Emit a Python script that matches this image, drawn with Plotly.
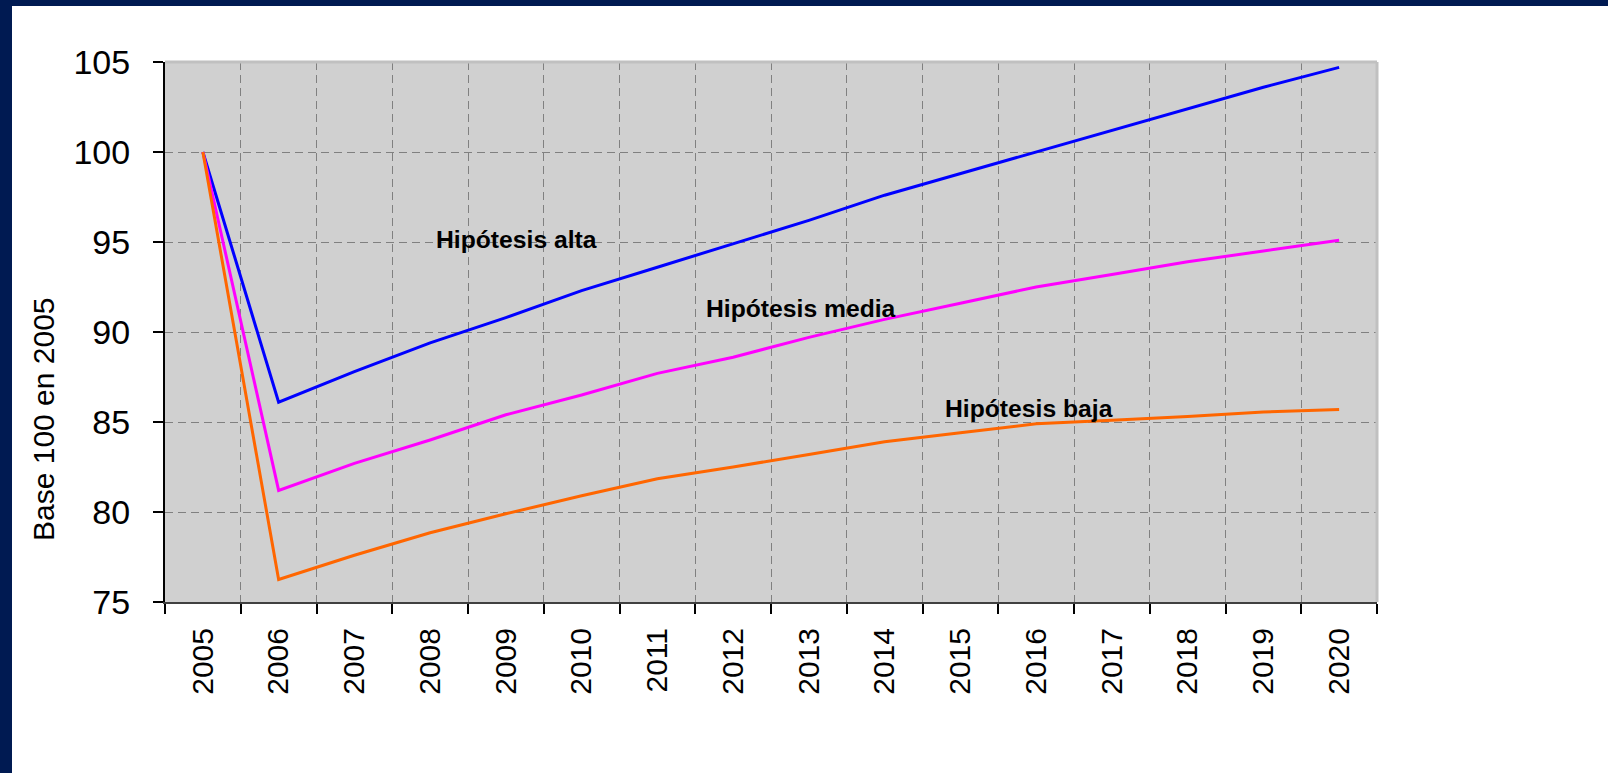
import plotly.graph_objects as go

# Projected index (base 2005 = 100) under three hypotheses
years = [str(y) for y in range(2005, 2021)]
alta = [100, 86.1, 87.8, 89.4, 90.8, 92.3, 93.6, 94.9, 96.2, 97.6, 98.8, 100.0, 101.2, 102.4, 103.6, 104.7]
media = [100, 81.2, 82.7, 84.0, 85.4, 86.5, 87.7, 88.6, 89.7, 90.7, 91.6, 92.5, 93.2, 93.9, 94.5, 95.1]
baja = [100, 76.25, 77.6, 78.85, 79.9, 80.9, 81.85, 82.5, 83.2, 83.9, 84.4, 84.9, 85.1, 85.3, 85.55, 85.7]

series_names = ["Hipótesis alta", "Hipótesis media", "Hipótesis baja"]
series_colors = ["#0000ff", "#ff00ff", "#ff6600"]
y_ticks = [75, 80, 85, 90, 95, 100, 105]
y_title = "Base 100 en 2005"

# Figure geometry (pixels)
W, H = 1608, 773
PL, PR, PT, PB = 165, 1377, 62, 602
pw, ph = PR - PL, PB - PT


def px_x(px):
    return (px - PL) / pw


def px_y(py):
    return (PB - py) / ph


fig = go.Figure()
for vals, name, col in zip([alta, media, baja], series_names, series_colors):
    fig.add_trace(go.Scatter(x=years, y=vals, mode="lines", name=name,
                             line=dict(color=col, width=3), showlegend=False))

font_main = "Liberation Sans, Arial, sans-serif"
label_font = dict(family=font_main, size=24.7, color="#000000", weight="bold")

# Series labels placed inside the plot
label_pos = [(4.14, 95.15), (7.9, 91.33), (10.91, 85.75)]
for name, (lx, ly) in zip(series_names, label_pos):
    fig.add_annotation(x=lx, y=ly, xref="x", yref="y", text=name, showarrow=False,
                       font=label_font, xanchor="center", yanchor="middle")

# Rotated axis title
fig.add_annotation(x=px_x(43), y=px_y(419), xref="paper", yref="paper", text=y_title,
                   showarrow=False, textangle=-90, xanchor="center", yanchor="middle",
                   font=dict(family=font_main, size=30, color="#000000"))

navy = "#001a52"
shapes = [
    # frame: top and right edges of the plot area
    dict(type="line", xref="paper", yref="paper", x0=0, x1=1, y0=1, y1=1,
         line=dict(color="#c0c0c0", width=3), layer="above"),
    dict(type="line", xref="paper", yref="paper", x0=1, x1=1, y0=0, y1=1,
         line=dict(color="#c0c0c0", width=3), layer="above"),
    # dark page border bands
    dict(type="rect", xref="paper", yref="paper", x0=px_x(0), x1=px_x(12),
         y0=px_y(H), y1=px_y(0), fillcolor=navy, line=dict(width=0), layer="above"),
    dict(type="rect", xref="paper", yref="paper", x0=px_x(0), x1=px_x(W),
         y0=px_y(6), y1=px_y(0), fillcolor=navy, line=dict(width=0), layer="above"),
]

grid = dict(showgrid=True, gridcolor="#808080", gridwidth=1, griddash="8px,5px")

fig.update_layout(
    width=W, height=H,
    margin=dict(l=PL, r=W - PR, t=PT, b=H - PB, autoexpand=False),
    paper_bgcolor="#ffffff", plot_bgcolor="#d0d0d0",
    shapes=shapes,
    xaxis=dict(type="category", range=[-0.5, 15.5], tickson="boundaries",
               ticks="outside", ticklen=10, tickwidth=2, tickcolor="#000000",
               tickangle=-90, ticklabelstandoff=12,
               tickfont=dict(family=font_main, size=30, color="#000000"),
               showline=True, linecolor="#404040", linewidth=2,
               zeroline=False, **grid),
    yaxis=dict(range=[75, 105], tickvals=y_ticks, ticks="outside", ticklen=10,
               tickwidth=2, tickcolor="#000000", ticklabelstandoff=16,
               tickfont=dict(family=font_main, size=34, color="#000000"),
               showline=True, linecolor="#000000", linewidth=2,
               zeroline=False, **grid),
)

fig.write_html("out.html")
